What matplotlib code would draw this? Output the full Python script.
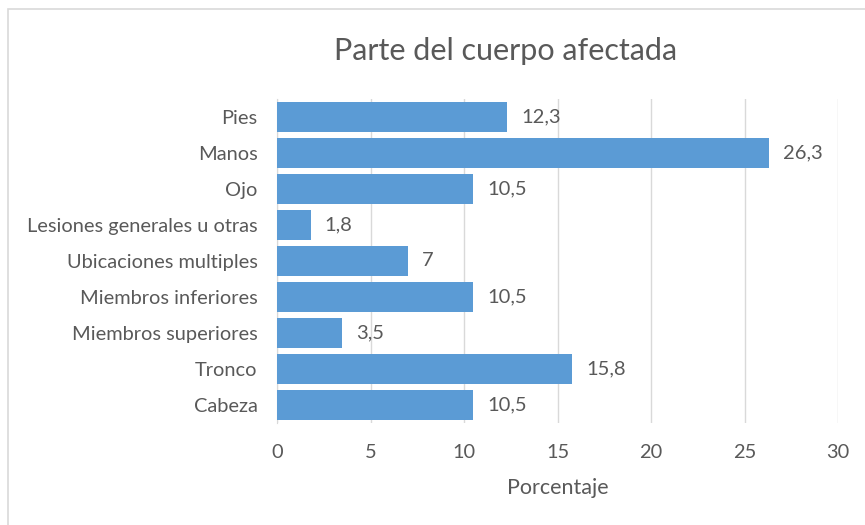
import matplotlib.pyplot as plt

plt.rcParams['font.family'] = ['Lato', 'DejaVu Sans']

categorias = ['Cabeza', 'Tronco', 'Miembros superiores', 'Miembros inferiores',
              'Ubicaciones multiples', 'Lesiones generales u otras', 'Ojo', 'Manos', 'Pies']
porcentajes = [10.5, 15.8, 3.5, 10.5, 7, 1.8, 10.5, 26.3, 12.3]
etiquetas = ['10,5', '15,8', '3,5', '10,5', '7', '1,8', '10,5', '26,3', '12,3']
xticks = [0, 5, 10, 15, 20, 25, 30]

texto = '#595959'
azul = '#5B9BD5'

fig = plt.figure(figsize=(8.65, 5.25), dpi=100)
# chart border
fig.patches.append(plt.Rectangle((8 / 865, -0.01), 1.0, 1 - 9 / 525 + 0.01, transform=fig.transFigure,
                                 fill=False, edgecolor='#D9D9D9', linewidth=1.2))
ax = fig.add_axes([277 / 865, 1 - 423 / 525, (838 - 277) / 865, (423 - 99) / 525])

ypos = list(range(len(categorias)))
ax.barh(ypos, porcentajes, height=0.86, color=azul, zorder=3)
for y, v, lab in zip(ypos, porcentajes, etiquetas):
    ax.annotate(lab, (v, y), xytext=(10, 0), textcoords='offset points',
                va='center', ha='left', fontsize=14.5, color=texto)

ax.set_xlim(0, 30)
ax.set_ylim(-0.5, 8.5)
ax.set_xticks(xticks)
ax.set_yticks(ypos)
ax.set_yticklabels(categorias)
ax.xaxis.grid(True, color='#D9D9D9', linewidth=1, zorder=0)
for s in ['top', 'right', 'bottom']:
    ax.spines[s].set_visible(False)
ax.spines['left'].set_color('#D9D9D9')
ax.tick_params(axis='both', length=0, labelsize=14.4, colors=texto)
ax.tick_params(axis='x', pad=15)
ax.tick_params(axis='y', pad=14)
ax.set_xlabel('Porcentaje', fontsize=15.5, color=texto, labelpad=12)
fig.text((332 + 680) / 2 / 865, 1 - 51 / 525, 'Parte del cuerpo afectada', ha='center', va='center',
         fontsize=22, color=texto)

fig.savefig('out.png', dpi=100)
